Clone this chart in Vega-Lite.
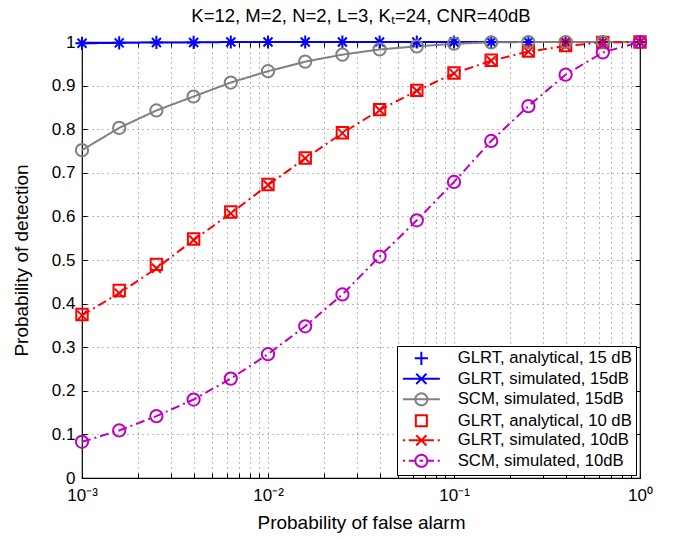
{
  "$schema": "https://vega.github.io/schema/vega-lite/v6.json",
  "autosize": "none",
  "width": 558,
  "height": 436,
  "padding": {"left": 82, "top": 42, "right": 34, "bottom": 62},
  "background": "white",
  "config": {
    "font": "Liberation Sans",
    "view": {"stroke": "#000", "strokeWidth": 1.2},
    "axis": {"labelColor": "#000", "titleColor": "#000", "tickColor": "#000", "labelFont": "Liberation Sans", "titleFont": "Liberation Sans", "titleFontWeight": "normal"}
  },
  "title": {"text": "K=12, M=2, N=2, L=3, Kₜ=24, CNR=40dB", "fontSize": 18.5, "fontWeight": "normal", "font": "Liberation Sans", "color": "#000", "offset": 6},
  "data": {"values": [
    {"series": "GLRT, analytical, 15 dB", "pfa": 0.001, "pd": 0.997},
    {"series": "GLRT, analytical, 15 dB", "pfa": 0.001585, "pd": 0.998},
    {"series": "GLRT, analytical, 15 dB", "pfa": 0.002512, "pd": 0.999},
    {"series": "GLRT, analytical, 15 dB", "pfa": 0.003981, "pd": 0.999},
    {"series": "GLRT, analytical, 15 dB", "pfa": 0.00631, "pd": 1.0},
    {"series": "GLRT, analytical, 15 dB", "pfa": 0.01, "pd": 1.0},
    {"series": "GLRT, analytical, 15 dB", "pfa": 0.01585, "pd": 1.0},
    {"series": "GLRT, analytical, 15 dB", "pfa": 0.02512, "pd": 1.0},
    {"series": "GLRT, analytical, 15 dB", "pfa": 0.03981, "pd": 1.0},
    {"series": "GLRT, analytical, 15 dB", "pfa": 0.0631, "pd": 1.0},
    {"series": "GLRT, analytical, 15 dB", "pfa": 0.1, "pd": 1.0},
    {"series": "GLRT, analytical, 15 dB", "pfa": 0.1585, "pd": 1.0},
    {"series": "GLRT, analytical, 15 dB", "pfa": 0.2512, "pd": 1.0},
    {"series": "GLRT, analytical, 15 dB", "pfa": 0.3981, "pd": 1.0},
    {"series": "GLRT, analytical, 15 dB", "pfa": 0.631, "pd": 1.0},
    {"series": "GLRT, analytical, 15 dB", "pfa": 1, "pd": 1.0},
    {"series": "GLRT, simulated, 15dB", "pfa": 0.001, "pd": 0.997},
    {"series": "GLRT, simulated, 15dB", "pfa": 0.001585, "pd": 0.998},
    {"series": "GLRT, simulated, 15dB", "pfa": 0.002512, "pd": 0.999},
    {"series": "GLRT, simulated, 15dB", "pfa": 0.003981, "pd": 0.999},
    {"series": "GLRT, simulated, 15dB", "pfa": 0.00631, "pd": 1.0},
    {"series": "GLRT, simulated, 15dB", "pfa": 0.01, "pd": 1.0},
    {"series": "GLRT, simulated, 15dB", "pfa": 0.01585, "pd": 1.0},
    {"series": "GLRT, simulated, 15dB", "pfa": 0.02512, "pd": 1.0},
    {"series": "GLRT, simulated, 15dB", "pfa": 0.03981, "pd": 1.0},
    {"series": "GLRT, simulated, 15dB", "pfa": 0.0631, "pd": 1.0},
    {"series": "GLRT, simulated, 15dB", "pfa": 0.1, "pd": 1.0},
    {"series": "GLRT, simulated, 15dB", "pfa": 0.1585, "pd": 1.0},
    {"series": "GLRT, simulated, 15dB", "pfa": 0.2512, "pd": 1.0},
    {"series": "GLRT, simulated, 15dB", "pfa": 0.3981, "pd": 1.0},
    {"series": "GLRT, simulated, 15dB", "pfa": 0.631, "pd": 1.0},
    {"series": "GLRT, simulated, 15dB", "pfa": 1, "pd": 1.0},
    {"series": "SCM, simulated, 15dB", "pfa": 0.001, "pd": 0.752},
    {"series": "SCM, simulated, 15dB", "pfa": 0.001585, "pd": 0.803},
    {"series": "SCM, simulated, 15dB", "pfa": 0.002512, "pd": 0.843},
    {"series": "SCM, simulated, 15dB", "pfa": 0.003981, "pd": 0.875},
    {"series": "SCM, simulated, 15dB", "pfa": 0.00631, "pd": 0.907},
    {"series": "SCM, simulated, 15dB", "pfa": 0.01, "pd": 0.933},
    {"series": "SCM, simulated, 15dB", "pfa": 0.01585, "pd": 0.955},
    {"series": "SCM, simulated, 15dB", "pfa": 0.02512, "pd": 0.971},
    {"series": "SCM, simulated, 15dB", "pfa": 0.03981, "pd": 0.983},
    {"series": "SCM, simulated, 15dB", "pfa": 0.0631, "pd": 0.99},
    {"series": "SCM, simulated, 15dB", "pfa": 0.1, "pd": 0.996},
    {"series": "SCM, simulated, 15dB", "pfa": 0.1585, "pd": 0.999},
    {"series": "SCM, simulated, 15dB", "pfa": 0.2512, "pd": 1.0},
    {"series": "SCM, simulated, 15dB", "pfa": 0.3981, "pd": 1.0},
    {"series": "SCM, simulated, 15dB", "pfa": 0.631, "pd": 1.0},
    {"series": "SCM, simulated, 15dB", "pfa": 1, "pd": 1.0},
    {"series": "GLRT, analytical, 10 dB", "pfa": 0.001, "pd": 0.375},
    {"series": "GLRT, analytical, 10 dB", "pfa": 0.001585, "pd": 0.43},
    {"series": "GLRT, analytical, 10 dB", "pfa": 0.002512, "pd": 0.49},
    {"series": "GLRT, analytical, 10 dB", "pfa": 0.003981, "pd": 0.548},
    {"series": "GLRT, analytical, 10 dB", "pfa": 0.00631, "pd": 0.61},
    {"series": "GLRT, analytical, 10 dB", "pfa": 0.01, "pd": 0.673},
    {"series": "GLRT, analytical, 10 dB", "pfa": 0.01585, "pd": 0.734},
    {"series": "GLRT, analytical, 10 dB", "pfa": 0.02512, "pd": 0.792},
    {"series": "GLRT, analytical, 10 dB", "pfa": 0.03981, "pd": 0.845},
    {"series": "GLRT, analytical, 10 dB", "pfa": 0.0631, "pd": 0.889},
    {"series": "GLRT, analytical, 10 dB", "pfa": 0.1, "pd": 0.929},
    {"series": "GLRT, analytical, 10 dB", "pfa": 0.1585, "pd": 0.958},
    {"series": "GLRT, analytical, 10 dB", "pfa": 0.2512, "pd": 0.979},
    {"series": "GLRT, analytical, 10 dB", "pfa": 0.3981, "pd": 0.992},
    {"series": "GLRT, analytical, 10 dB", "pfa": 0.631, "pd": 0.999},
    {"series": "GLRT, analytical, 10 dB", "pfa": 1, "pd": 1.0},
    {"series": "GLRT, simulated, 10dB", "pfa": 0.001, "pd": 0.373},
    {"series": "GLRT, simulated, 10dB", "pfa": 0.001585, "pd": 0.424},
    {"series": "GLRT, simulated, 10dB", "pfa": 0.002512, "pd": 0.481},
    {"series": "GLRT, simulated, 10dB", "pfa": 0.003981, "pd": 0.546},
    {"series": "GLRT, simulated, 10dB", "pfa": 0.00631, "pd": 0.607},
    {"series": "GLRT, simulated, 10dB", "pfa": 0.01, "pd": 0.672},
    {"series": "GLRT, simulated, 10dB", "pfa": 0.01585, "pd": 0.733},
    {"series": "GLRT, simulated, 10dB", "pfa": 0.02512, "pd": 0.791},
    {"series": "GLRT, simulated, 10dB", "pfa": 0.03981, "pd": 0.844},
    {"series": "GLRT, simulated, 10dB", "pfa": 0.0631, "pd": 0.888},
    {"series": "GLRT, simulated, 10dB", "pfa": 0.1, "pd": 0.928},
    {"series": "GLRT, simulated, 10dB", "pfa": 0.1585, "pd": 0.957},
    {"series": "GLRT, simulated, 10dB", "pfa": 0.2512, "pd": 0.978},
    {"series": "GLRT, simulated, 10dB", "pfa": 0.3981, "pd": 0.991},
    {"series": "GLRT, simulated, 10dB", "pfa": 0.631, "pd": 0.999},
    {"series": "GLRT, simulated, 10dB", "pfa": 1, "pd": 1.0},
    {"series": "SCM, simulated, 10dB", "pfa": 0.001, "pd": 0.083},
    {"series": "SCM, simulated, 10dB", "pfa": 0.001585, "pd": 0.109},
    {"series": "SCM, simulated, 10dB", "pfa": 0.002512, "pd": 0.142},
    {"series": "SCM, simulated, 10dB", "pfa": 0.003981, "pd": 0.18},
    {"series": "SCM, simulated, 10dB", "pfa": 0.00631, "pd": 0.228},
    {"series": "SCM, simulated, 10dB", "pfa": 0.01, "pd": 0.284},
    {"series": "SCM, simulated, 10dB", "pfa": 0.01585, "pd": 0.348},
    {"series": "SCM, simulated, 10dB", "pfa": 0.02512, "pd": 0.421},
    {"series": "SCM, simulated, 10dB", "pfa": 0.03981, "pd": 0.508},
    {"series": "SCM, simulated, 10dB", "pfa": 0.0631, "pd": 0.591},
    {"series": "SCM, simulated, 10dB", "pfa": 0.1, "pd": 0.679},
    {"series": "SCM, simulated, 10dB", "pfa": 0.1585, "pd": 0.773},
    {"series": "SCM, simulated, 10dB", "pfa": 0.2512, "pd": 0.853},
    {"series": "SCM, simulated, 10dB", "pfa": 0.3981, "pd": 0.925},
    {"series": "SCM, simulated, 10dB", "pfa": 0.631, "pd": 0.976},
    {"series": "SCM, simulated, 10dB", "pfa": 1, "pd": 1.0}
  ]},
  "resolve": {"axis": {"x": "independent", "y": "independent"}},
  "encoding": {
    "x": {"field": "pfa", "type": "quantitative", "scale": {"type": "log", "domain": [0.001, 1], "nice": false}},
    "y": {"field": "pd", "type": "quantitative", "scale": {"domain": [0, 1], "nice": false}}
  },
  "layer": [
    {
      "transform": [{"filter": "indexof(datum.series, 'simulated') >= 0"}],
      "mark": {"type": "line", "strokeWidth": 2, "clip": false},
      "encoding": {
        "x": {"field": "pfa", "type": "quantitative",
          "axis": {"orient": "bottom", "title": "Probability of false alarm", "titleFontSize": 19, "titlePadding": 10,
            "values": [0.001,0.002,0.003,0.004,0.005,0.006,0.007,0.008,0.009,0.01,0.02,0.03,0.04,0.05,0.06,0.07,0.08,0.09,0.1,0.2,0.3,0.4,0.5,0.6,0.7,0.8,0.9,1],
            "labelExpr": "datum.value == 0.001 ? '10⁻³' : datum.value == 0.01 ? '10⁻²' : datum.value == 0.1 ? '10⁻¹' : datum.value == 1 ? '10⁰' : ''",
            "labelOverlap": false, "labelFlush": false, "labelFontSize": 17, "labelPadding": 14,
            "domain": false, "tickSize": -5, "grid": true, "gridDash": [1, 4], "gridColor": "#000", "gridOpacity": 0.55}},
        "y": {"field": "pd", "type": "quantitative",
          "axis": {"orient": "left", "title": "Probability of detection", "titleFontSize": 19, "titlePadding": 20,
            "values": [0,0.1,0.2,0.3,0.4,0.5,0.6,0.7,0.8,0.9,1], "format": "~g",
            "labelFontSize": 17, "labelPadding": 12, "domain": false, "tickSize": -5,
            "grid": true, "gridDash": [1, 4], "gridColor": "#000", "gridOpacity": 0.55}},
        "color": {"field": "series", "type": "nominal",
          "scale": {"domain": ["GLRT, analytical, 15 dB", "GLRT, simulated, 15dB", "SCM, simulated, 15dB", "GLRT, analytical, 10 dB", "GLRT, simulated, 10dB", "SCM, simulated, 10dB"],
                    "range": ["#0000ff", "#0000ff", "#808080", "#ff0000", "#ff0000", "#bf00bf"]},
          "legend": {"orient": "none", "legendX": 315, "legendY": 304, "title": null,
            "strokeColor": "#000", "fillColor": "#fff", "padding": 4,
            "labelFontSize": 16.7, "labelFont": "Liberation Sans", "labelColor": "#000", "labelLimit": 400,
            "symbolSize": 144, "symbolStrokeWidth": 2, "symbolOffset": 12, "rowPadding": 0.5, "labelOffset": 28,
            "encode": {"symbols": {"update": {
              "fill": {"value": "transparent"},
              "strokeDash": {"value": [1, 0]},
              "opacity": {"value": 1},
              "shape": {"signal": "datum.value == 'GLRT, analytical, 15 dB' ? 'M-1.1,0H1.1M0,-1.1V1.1' : datum.value == 'GLRT, simulated, 15dB' ? 'M-3.08,0H3.08M-0.85,-0.85L0.85,0.85M-0.85,0.85L0.85,-0.85' : datum.value == 'SCM, simulated, 15dB' ? 'M-3.08,0H3.08M-1,0A1,1,0,1,1,1,0A1,1,0,1,1,-1,0' : datum.value == 'GLRT, analytical, 10 dB' ? 'M-0.92,-0.92H0.92V0.92H-0.92Z' : datum.value == 'GLRT, simulated, 10dB' ? 'M-3.08,0H-2.72M-2.1,0H2.1M2.72,0H3.08M-0.85,-0.85L0.85,0.85M-0.85,0.85L0.85,-0.85' : 'M-3.08,0H-2.72M-2.1,0H-1M1,0H2.1M2.72,0H3.08M-0.3,0H0.3M-1,0A1,1,0,1,1,1,0A1,1,0,1,1,-1,0'"}
            }}}}},
        "strokeDash": {"field": "series", "type": "nominal",
          "scale": {"domain": ["GLRT, simulated, 15dB", "SCM, simulated, 15dB", "GLRT, simulated, 10dB", "SCM, simulated, 10dB"],
                    "range": [[1, 0], [1, 0], [9, 4, 2, 4], [9, 4, 2, 4]]},
          "legend": null}
      }
    },
    {
      "transform": [{"filter": "datum.series == 'GLRT, analytical, 15 dB'"}],
      "mark": {"type": "point", "shape": "M-1.1,0H1.1M0,-1.1V1.1", "filled": false, "strokeWidth": 2, "size": 144, "opacity": 1, "clip": false},
      "encoding": {
        "x": {"field": "pfa", "type": "quantitative",
          "axis": {"orient": "top", "title": null, "labels": false, "grid": false, "domain": false, "tickSize": -5,
            "values": [0.001,0.002,0.003,0.004,0.005,0.006,0.007,0.008,0.009,0.01,0.02,0.03,0.04,0.05,0.06,0.07,0.08,0.09,0.1,0.2,0.3,0.4,0.5,0.6,0.7,0.8,0.9,1]}},
        "y": {"field": "pd", "type": "quantitative",
          "axis": {"orient": "right", "title": null, "labels": false, "grid": false, "domain": false, "tickSize": -5,
            "values": [0,0.1,0.2,0.3,0.4,0.5,0.6,0.7,0.8,0.9,1]}},
        "color": {"field": "series", "type": "nominal", "legend": null}
      }
    },
    {
      "transform": [{"filter": "datum.series == 'GLRT, simulated, 15dB' || datum.series == 'GLRT, simulated, 10dB'"}],
      "mark": {"type": "point", "shape": "M-0.75,-0.75L0.75,0.75M-0.75,0.75L0.75,-0.75", "filled": false, "strokeWidth": 2, "size": 144, "opacity": 1, "clip": false},
      "encoding": {
        "x": {"field": "pfa", "type": "quantitative", "axis": null},
        "y": {"field": "pd", "type": "quantitative", "axis": null},
        "color": {"field": "series", "type": "nominal", "legend": null}
      }
    },
    {
      "transform": [{"filter": "datum.series == 'GLRT, analytical, 10 dB'"}],
      "mark": {"type": "point", "shape": "square", "filled": false, "strokeWidth": 2, "size": 130, "opacity": 1, "clip": false},
      "encoding": {
        "x": {"field": "pfa", "type": "quantitative", "axis": null},
        "y": {"field": "pd", "type": "quantitative", "axis": null},
        "color": {"field": "series", "type": "nominal", "legend": null}
      }
    },
    {
      "transform": [{"filter": "indexof(datum.series, 'SCM') >= 0"}],
      "mark": {"type": "point", "shape": "circle", "filled": false, "strokeWidth": 2, "size": 150, "opacity": 1, "clip": false},
      "encoding": {
        "x": {"field": "pfa", "type": "quantitative", "axis": null},
        "y": {"field": "pd", "type": "quantitative", "axis": null},
        "color": {"field": "series", "type": "nominal", "legend": null}
      }
    }
  ]
}
